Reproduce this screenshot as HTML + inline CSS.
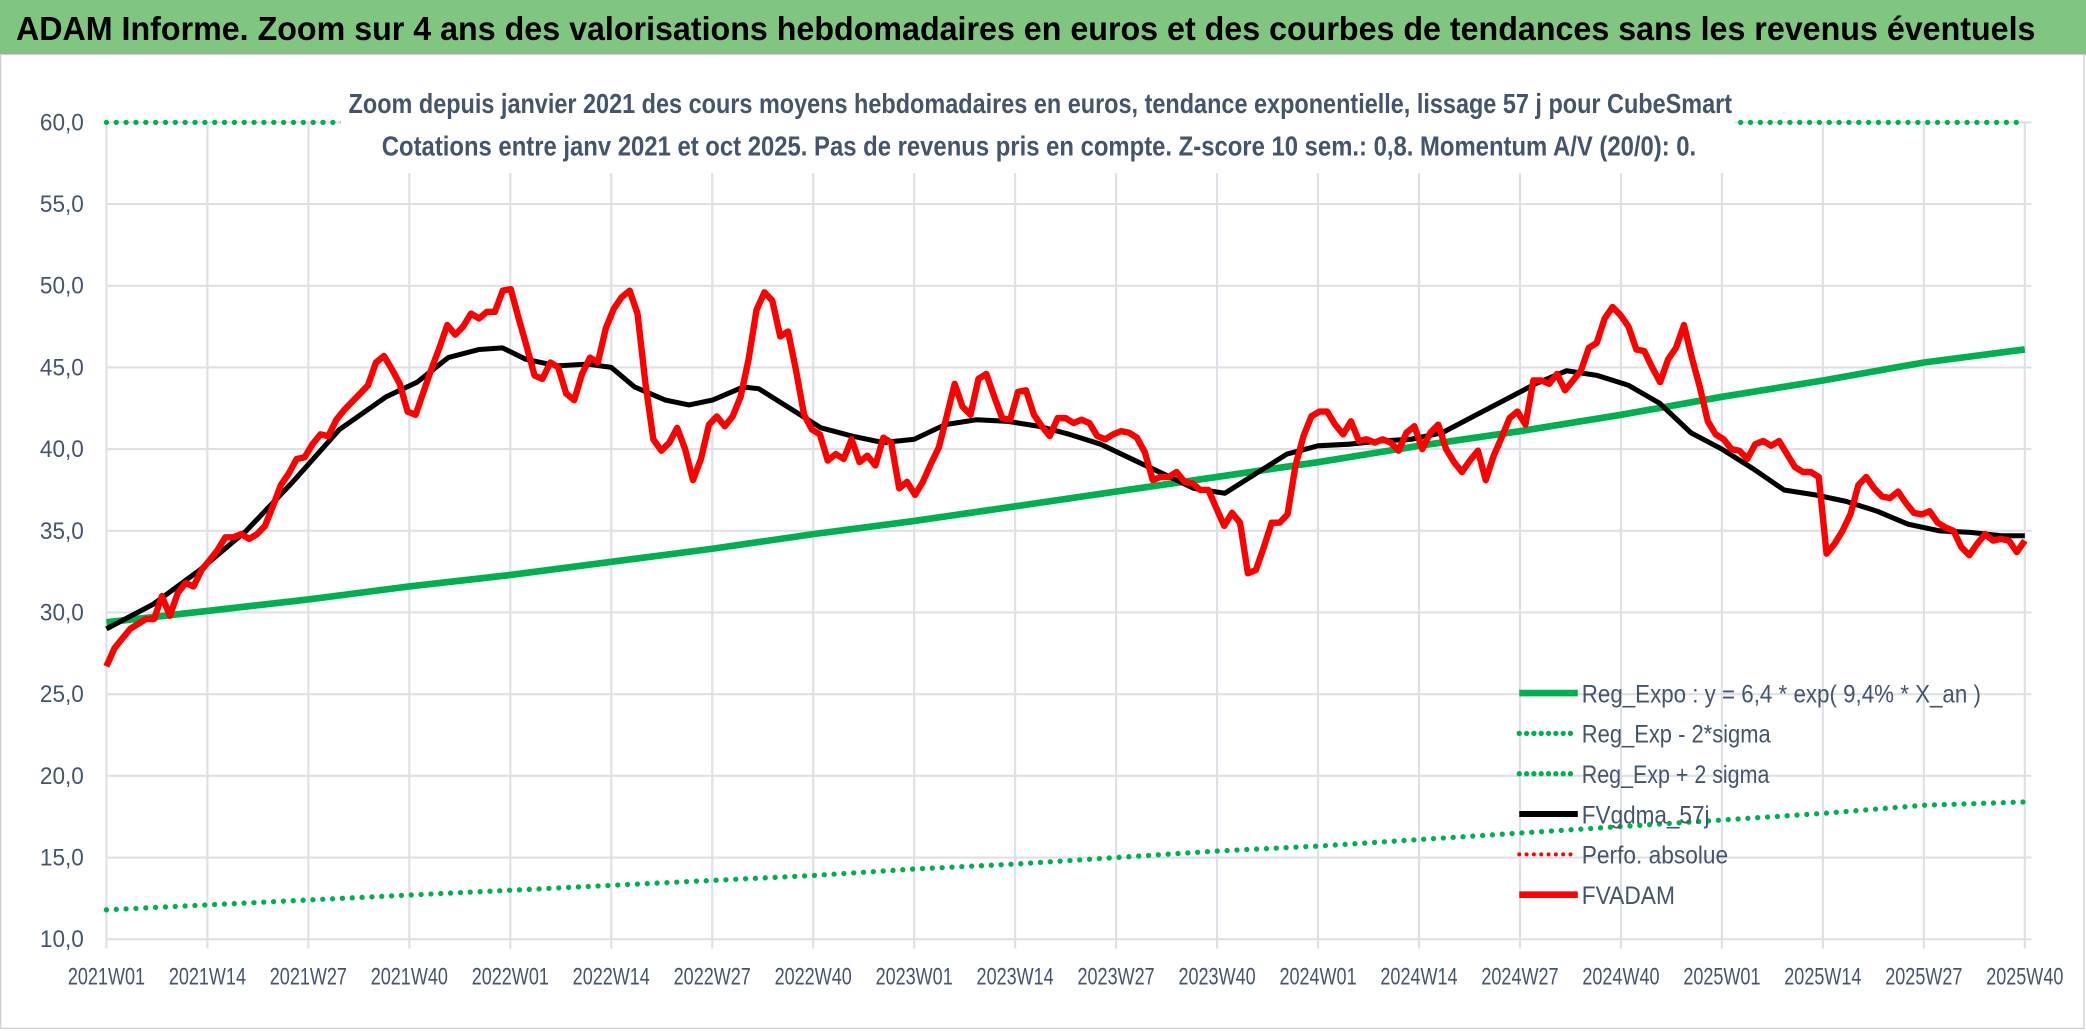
<!DOCTYPE html>
<html><head><meta charset="utf-8"><style>
html,body{margin:0;padding:0;background:#fff;}
svg{display:block;font-family:"Liberation Sans Narrow","Liberation Sans",sans-serif;}
</style></head><body>
<svg id="chart" width="2086" height="1031" viewBox="0 0 1568 775" preserveAspectRatio="none" xmlns="http://www.w3.org/2000/svg">
<rect x="0" y="0" width="1568" height="775" fill="#fff"/>
<rect x="0" y="0" width="1568" height="40" fill="#80c680"/>
<line x1="0" y1="40.5" x2="1568" y2="40.5" stroke="#a0a0a0" stroke-width="1.5"/>
<rect x="0.5" y="41" width="1566" height="732" fill="none" stroke="#d0d0d0" stroke-width="1"/>
<text x="12" y="30" font-size="25" font-weight="bold" fill="#000" textLength="1518" lengthAdjust="spacingAndGlyphs">ADAM Informe. Zoom sur 4 ans des valorisations hebdomadaires en euros et des courbes de tendances sans les revenus éventuels</text>
<g id="grid"></g>
<g id="series"></g>
<rect x="256" y="60" width="1048" height="70" fill="#fff"/>
<text x="262" y="85" font-size="21" font-weight="bold" fill="#44546a" textLength="1040" lengthAdjust="spacingAndGlyphs">Zoom depuis janvier 2021 des cours moyens hebdomadaires en euros, tendance exponentielle, lissage 57 j pour CubeSmart</text>
<text x="287" y="117" font-size="21" font-weight="bold" fill="#44546a" textLength="988" lengthAdjust="spacingAndGlyphs">Cotations entre janv 2021 et oct 2025. Pas de revenus pris en compte. Z-score 10 sem.: 0,8. Momentum A/V (20/0): 0.</text>
<g id="axes"></g>
<g id="legend"></g>
</svg>
<script>
const NS="http://www.w3.org/2000/svg";
const yTicks=[10,15,20,25,30,35,40,45,50,55,60];
const yTickLabels=["10,0","15,0","20,0","25,0","30,0","35,0","40,0","45,0","50,0","55,0","60,0"];
const xTickWeeks=[0,13,26,39,52,65,78,91,104,117,130,143,156,169,182,195,208,221,234,247];
const xTickLabels=["2021W01","2021W14","2021W27","2021W40","2022W01","2022W14","2022W27","2022W40","2023W01","2023W14","2023W27","2023W40","2024W01","2024W14","2024W27","2024W40","2025W01","2025W14","2025W27","2025W40"];
const fvadam=[26.7,27.8,28.4,29.0,29.3,29.6,29.6,31.0,29.8,31.2,31.8,31.6,32.6,33.2,33.8,34.6,34.6,34.8,34.5,34.8,35.3,36.5,37.8,38.5,39.4,39.5,40.3,40.9,40.8,41.8,42.4,42.9,43.4,43.9,45.3,45.7,44.9,44.0,42.3,42.1,43.5,44.9,46.2,47.6,47.0,47.5,48.3,48.0,48.4,48.4,49.7,49.8,48.0,46.3,44.5,44.3,45.3,45.0,43.4,43.0,44.6,45.6,45.3,47.4,48.6,49.3,49.7,48.3,44.0,40.6,39.9,40.4,41.3,40.0,38.1,39.4,41.5,42.0,41.4,42.0,43.2,45.5,48.5,49.6,49.1,46.9,47.2,44.8,42.1,41.2,40.9,39.3,39.7,39.4,40.6,39.2,39.6,39.0,40.7,40.4,37.6,38.0,37.2,38.0,39.1,40.1,42.0,44.0,42.6,42.1,44.3,44.6,43.2,41.9,41.8,43.5,43.6,42.1,41.4,40.8,41.9,41.9,41.6,41.8,41.6,40.8,40.6,40.9,41.1,41.0,40.7,39.8,38.1,38.3,38.3,38.6,38.0,37.9,37.5,37.5,36.4,35.3,36.1,35.5,32.4,32.6,34.0,35.5,35.5,36.0,39.0,40.8,42.0,42.3,42.3,41.5,40.9,41.7,40.5,40.6,40.4,40.6,40.4,39.9,41.0,41.4,40.0,41.0,41.5,40.0,39.2,38.6,39.3,39.9,38.1,39.6,40.7,41.9,42.3,41.5,44.2,44.2,44.0,44.6,43.6,44.2,44.8,46.2,46.5,48.0,48.7,48.2,47.5,46.1,46.0,45.0,44.1,45.5,46.2,47.6,45.6,43.8,41.7,40.9,40.6,40.0,39.9,39.4,40.3,40.5,40.2,40.5,39.7,38.9,38.6,38.6,38.3,33.6,34.2,35.0,36.0,37.8,38.3,37.6,37.1,37.0,37.4,36.7,36.1,36.0,36.2,35.5,35.2,35.0,34.0,33.5,34.2,34.8,34.4,34.5,34.4,33.7,34.4];
const maWeeks=[0,6,12,18,24,30,36,40,44,48,51,54,58,62,65,68,72,75,78,82,84,88,92,96,100,104,108,112,116,120,124,128,132,136,140,144,148,152,156,160,164,168,172,176,180,184,188,192,196,200,204,208,212,216,220,224,228,232,236,240,244,247];
const maValues=[29.0,30.5,32.6,35.0,38.0,41.2,43.2,44.1,45.6,46.1,46.2,45.5,45.1,45.2,45.0,43.8,43.0,42.7,43.0,43.8,43.7,42.5,41.3,40.8,40.4,40.6,41.5,41.8,41.7,41.4,40.9,40.3,39.4,38.5,37.6,37.3,38.5,39.7,40.2,40.3,40.5,40.6,41.0,42.0,43.0,44.0,44.8,44.5,43.9,42.8,41.0,40.0,38.8,37.5,37.2,36.8,36.2,35.4,35.0,34.9,34.7,34.7];
const regValues=[29.4,30.1,30.8,31.6,32.3,33.1,33.9,34.8,35.6,36.5,37.4,38.3,39.2,40.2,41.1,42.1,43.2,44.2,45.3,46.1];
const lowValues=[11.8,12.1,12.4,12.7,13.0,13.3,13.6,13.9,14.3,14.6,15.0,15.4,15.7,16.1,16.5,16.9,17.3,17.7,18.2,18.4];
const highValues=[60,60,60,60,60,60,60,60,60,60,60,60,60,60,60,60,60,60,60,60];

const X0=80,X1=1522,Y10=706,Y60=92,WMAX=247;
const xs=w=>X0+(X1-X0)*w/WMAX;
const ys=v=>Y10-(v-10)*(Y10-Y60)/50;
function mk(tag,attrs,parent){const e=document.createElementNS(NS,tag);for(const k in attrs)e.setAttribute(k,attrs[k]);parent.appendChild(e);return e;}
const grid=document.getElementById('grid'),axes=document.getElementById('axes'),ser=document.getElementById('series'),leg=document.getElementById('legend');

yTicks.forEach((v,i)=>{
  const l=mk('line',{x1:X0,x2:1527,y1:ys(v),y2:ys(v),stroke:'#dde0e6','stroke-width':1.6},grid);
  
  
  const t=mk('text',{x:30,y:ys(v)+6,'font-size':18,fill:'#44546a',textLength:33,lengthAdjust:'spacingAndGlyphs'},axes);
  
  
  t.textContent=yTickLabels[i];
});
xTickWeeks.forEach((w,i)=>{
  const l=mk('line',{x1:xs(w),x2:xs(w),y1:Y60,y2:Y10+7,stroke:'#dde0e6','stroke-width':1.6},grid);
  
  
  const t=mk('text',{x:xs(w)-29,y:740,'font-size':18,fill:'#44546a',textLength:58,lengthAdjust:'spacingAndGlyphs'},axes);
  
  
  t.textContent=xTickLabels[i];
});

function path(pts){return pts.map((p,i)=>(i?'L':'M')+p[0].toFixed(1)+','+p[1].toFixed(1)).join(' ');}
const dotted={fill:'none',stroke:'#00b050','stroke-width':4,'stroke-dasharray':'0 7.4','stroke-linecap':'round'};
const pLow=mk('path',Object.assign({d:path(xTickWeeks.map((w,i)=>[xs(w),ys(lowValues[i])]))},dotted),ser);


const pHigh=mk('path',Object.assign({d:path(xTickWeeks.map((w,i)=>[xs(w),ys(highValues[i])]))},dotted),ser);


const pReg=mk('path',{d:path(xTickWeeks.map((w,i)=>[xs(w),ys(regValues[i])])),fill:'none',stroke:'#00b050','stroke-width':5,'stroke-linejoin':'round'},ser);


const pMa=mk('path',{d:path(maWeeks.map((w,i)=>[xs(w),ys(maValues[i])])),fill:'none',stroke:'#000','stroke-width':3.8,'stroke-linejoin':'round'},ser);


const n=fvadam.length;
const pRed=mk('path',{d:path(fvadam.map((v,i)=>[xs(i*WMAX/(n-1)),ys(v)])),fill:'none',stroke:'#ff0000','stroke-width':4.8,'stroke-linejoin':'round'},ser);



const legItems=[
 ['Reg_Expo : y = 6,4 * exp( 9,4% *  X_an )','#00b050','solid',5,300],
 ['Reg_Exp - 2*sigma','#00b050','dot',4,142],
 ['Reg_Exp + 2 sigma','#00b050','dot',4,141],
 ['FVgdma_57j','#000','solid',4.5,96],
 ['Perfo. absolue','#ff0000','dot',3,110],
 ['FVADAM','#ff0000','solid',5,70]];
const legNames=['legend-reg-expo','legend-reg-exp-minus-2sigma','legend-reg-exp-plus-2sigma','legend-fvgdma-57j','legend-perfo-absolue','legend-fvadam'];
legItems.forEach((it,i)=>{
  const y=521+i*30.3;
  const g=mk('g',{},leg);
  
  
  const a={x1:1142,x2:1186,y1:y,y2:y,stroke:it[1],'stroke-width':it[3]};
  if(it[2]==='dot'){a['stroke-dasharray']='0 5.5';a['stroke-linecap']='round';}
  mk('line',a,g);
  const t=mk('text',{x:1189,y:y+7,'font-size':19,fill:'#44546a',textLength:it[4],lengthAdjust:'spacingAndGlyphs'},g);
  t.textContent=it[0];
});
</script>
</body></html>
